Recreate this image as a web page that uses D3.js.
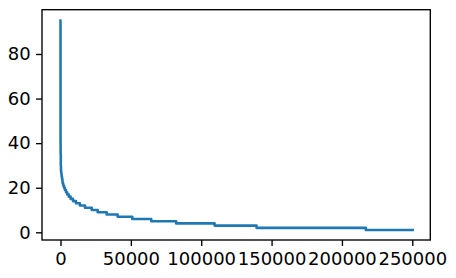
<!DOCTYPE html>
<html>
<head>
<meta charset="utf-8">
<script src="https://cdn.jsdelivr.net/npm/d3@7"></script>
<style>
  html, body { margin: 0; padding: 0; background: #fff; }
  svg { display: block; }
  text { font-family: "DejaVu Sans", sans-serif; }
</style>
</head>
<body>
<svg id="chart" width="456" height="278"></svg>
<script>
// Step levels (sorted value) and the rank where each level starts
const levelValues = [95, 70, 50, 40, 35, 30, 28, 27, 26, 25, 24, 23, 22, 21, 20, 19, 18, 17, 16, 15, 14, 13, 12, 11, 10, 9, 8, 7, 6, 5, 4, 3, 2, 1];
const levelStarts = [0, 4, 15, 40, 80, 200, 330, 450, 600, 800, 1050, 1350, 1500, 1900, 2500, 3150, 3900, 4800, 5900, 7200, 8900, 11000, 13800, 17400, 22200, 26400, 32800, 40600, 51000, 64500, 82200, 109500, 139300, 217000];
const lastRank = 250300;
const xTicks = [0, 50000, 100000, 150000, 200000, 250000];
const yTicks = [0, 20, 40, 60, 80];

const svg = d3.select("#chart");
const L = 42, R = 430.3, T = 9.7, B = 240;
const fontSize = 18, tickLen = 5.95, stroke = 1.36;

const x = d3.scaleLinear().domain([-13147, 262791]).range([L, R]);
const y = d3.scaleLinear().domain([-3.45, 99.87]).range([B, T]);

const pts = levelValues.map((v, i) => [levelStarts[i], v]);
pts.push([lastRank, levelValues[levelValues.length - 1]]);

svg.append("rect").attr("width", 456).attr("height", 278).attr("fill", "#fff");

const line = d3.line().x(d => x(d[0])).y(d => y(d[1])).curve(d3.curveStepAfter);
svg.append("path")
  .datum(pts)
  .attr("d", line)
  .attr("fill", "none")
  .attr("stroke", "#1f77b4")
  .attr("stroke-width", 2.55)
  .attr("stroke-linecap", "square")
  .attr("stroke-linejoin", "round");

const xAxis = svg.append("g").attr("transform", `translate(0,${B})`)
  .call(d3.axisBottom(x).tickValues(xTicks).tickFormat(d3.format("d")).tickSize(tickLen).tickPadding(6.2));
const yAxis = svg.append("g").attr("transform", `translate(${L},0)`)
  .call(d3.axisLeft(y).tickValues(yTicks).tickFormat(d3.format("d")).tickSize(tickLen).tickPadding(5.3));

[xAxis, yAxis].forEach(g => {
  g.select(".domain").remove();
  g.selectAll(".tick line").attr("stroke", "#000").attr("stroke-width", stroke);
  g.selectAll(".tick text").attr("fill", "#000").style("font-size", fontSize + "px").style("font-family", "'DejaVu Sans', sans-serif");
});

svg.append("rect")
  .attr("x", L).attr("y", T).attr("width", R - L).attr("height", B - T)
  .attr("fill", "none").attr("stroke", "#000").attr("stroke-width", stroke);
</script>
</body>
</html>
